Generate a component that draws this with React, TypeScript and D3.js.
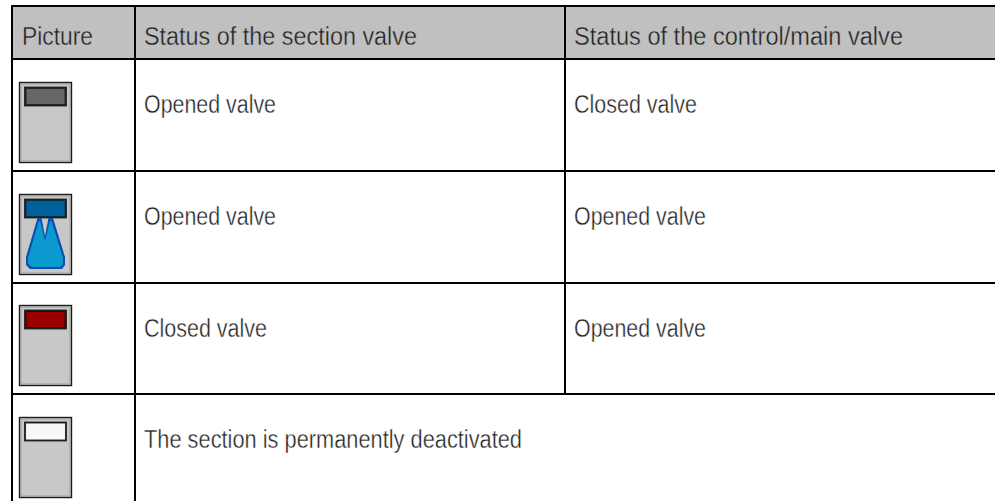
import React from "react";
import * as d3 from "d3";

const headers = ["Picture", "Status of the section valve", "Status of the control/main valve"];
const sectionStatus = ["Opened valve", "Opened valve", "Closed valve", "The section is permanently deactivated"];
const mainStatus = ["Closed valve", "Opened valve", "Opened valve", ""];
const lampFill = ["#2c2c2c", "#0a3a50", "#3a0000", "#e8e8e8"];
const lampInner = ["#666666", "#00609c", "#990000", "#f8f8f8"];
const spray = [false, true, false, false];
const rowLines = [6, 59, 171, 283, 394];
const colLines = [12, 135, 565];
const iconTops = [82, 194, 305, 417];

const font = "'Liberation Sans', sans-serif";
const textFill = "#222";

const sprayOuter: [number, number][] = [
  [37.5, 24], [41.5, 24], [45, 42], [48.5, 24], [53, 24], [65, 63], [65, 71], [62, 75], [30, 75], [26, 71], [26, 63],
];
const sprayInner: [number, number][] = [
  [38.8, 27], [40.2, 27], [45, 47], [50, 27], [51.5, 27], [63, 64], [63, 70], [60, 73], [32, 73], [28, 70], [28, 64],
];
const pathOf = d3.line();

function Label({ x, y, text, size, width, bg }: { x: number; y: number; text: string; size: number; width: number; bg: string }) {
  return (
    <text
      x={x}
      y={y}
      textLength={width}
      lengthAdjust="spacingAndGlyphs"
      fontFamily={font}
      fontSize={size}
      fill={textFill}
      stroke={bg}
      strokeWidth={0.4}
    >
      {text}
    </text>
  );
}

const headerWidths = [71, 273, 329];
const bodyWidths: Record<string, number> = {
  "Opened valve": 132,
  "Closed valve": 123,
  "The section is permanently deactivated": 378,
};

function Icon({ top, i }: { top: number; i: number }) {
  return (
    <g transform={`translate(0,${top})`}>
      <rect x={19.5} y={0.5} width={52} height={80} fill="#c8c8c8" stroke="#1a1a1a" strokeWidth={1.4} />
      <rect x={21} y={2} width={49} height={77} fill="none" stroke="#a0a0a0" strokeWidth={1} />
      <rect x={25} y={5.5} width={41} height={18} fill={lampFill[i]} stroke="#1c1c1c" strokeWidth={1.8} />
      <rect x={26.5} y={7} width={38} height={15} fill={lampInner[i]} />
      {spray[i] && (
        <g>
          <path d={pathOf(sprayOuter) + "Z"} fill="#0a4fb0" />
          <path d={pathOf(sprayInner) + "Z"} fill="#0a9ad0" />
        </g>
      )}
    </g>
  );
}

export default function App() {
  const rows = sectionStatus.map((s, i) => ({ s, m: mainStatus[i], i }));
  return (
    <svg width={995} height={501} style={{ position: "absolute", left: 0, top: 0, background: "#fff" }}>
      <rect x={12} y={rowLines[0]} width={983} height={rowLines[1] - rowLines[0]} fill="#c0c0c0" />
      {headers.map((h, i) => (
        <Label key={h} x={colLines[i] + (i === 0 ? 10 : 9)} y={45} text={h} size={25} width={headerWidths[i]} bg="#c0c0c0" />
      ))}
      {rows.map(({ s, m, i }) => (
        <g key={i}>
          <Icon top={iconTops[i]} i={i} />
          <Label x={144} y={rowLines[i + 1] + 54} text={s} size={26} width={bodyWidths[s]} bg="#fff" />
          {m && <Label x={574} y={rowLines[i + 1] + 54} text={m} size={26} width={bodyWidths[m]} bg="#fff" />}
        </g>
      ))}
      {rowLines.map((v, i) => (
        <line key={i} x1={11} x2={995} y1={v} y2={v} stroke="#000" strokeWidth={2} />
      ))}
      <line x1={12} x2={12} y1={5} y2={501} stroke="#000" strokeWidth={2} />
      <line x1={135} x2={135} y1={5} y2={501} stroke="#000" strokeWidth={2} />
      <line x1={565} x2={565} y1={5} y2={394} stroke="#000" strokeWidth={2} />
    </svg>
  );
}
